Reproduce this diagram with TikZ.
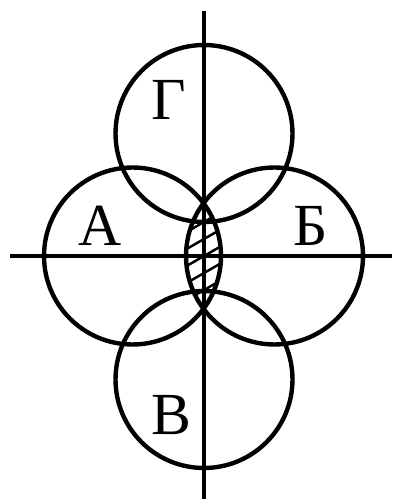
\documentclass[tikz,border=0pt]{standalone}
\usepackage{fontspec}
\setmainfont{Liberation Serif}
\usetikzlibrary{calc}
\tikzset{
  ring/.style={draw, line width=2.5pt},
  axis/.style={draw, line width=2.1pt},
  hatch/.style={draw, line width=1.4pt},
  lbl/.style={inner sep=0pt, font=\fontsize{34}{34}\selectfont}
}
\begin{document}
\begin{tikzpicture}[x=0.02cm,y=-0.02cm]
\useasboundingbox (0,0) rectangle (394,499);
% centres of the four circles
\coordinate (cG) at (204,133.5);
\coordinate (cA) at (132.5,256);
\coordinate (cB) at (274.5,256);
\coordinate (cV) at (204,379.5);
% ends of the axes
\coordinate (top) at (204,11);
\coordinate (bot) at (204,499);
\coordinate (lft) at (10,256);
\coordinate (rgt) at (392,256);
% hatched lens
\begin{scope}
  \clip (cA) circle[radius=1.77cm];
  \clip (cB) circle[radius=1.77cm];
  \foreach \k in {-4,...,4}
    \draw[hatch] ($(144,290.6)+(0,\k*17)$) -- ($(264,221.4)+(0,\k*17)$);
\end{scope}
\draw[axis] (top) -- (bot);
\draw[axis] (lft) -- (rgt);
\draw[ring] (cG) circle[radius=1.77cm];
\draw[ring] (cA) circle[radius=1.77cm];
\draw[ring] (cB) circle[radius=1.77cm];
\draw[ring] (cV) circle[radius=1.77cm];
\node[lbl] (G) at (169,100) {Г};
\node[lbl] (A) at (100,226) {А};
\node[lbl] (B) at (311,226) {Б};
\node[lbl] (V) at (171,415) {В};
\end{tikzpicture}
\end{document}
